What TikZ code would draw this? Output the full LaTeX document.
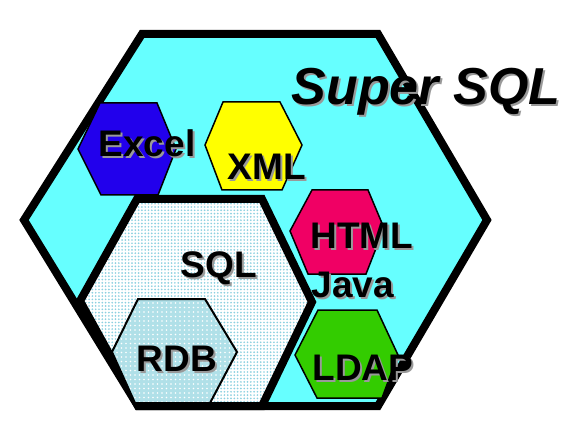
\documentclass[tikz,border=0pt]{standalone}
\usepackage{tikz}
\usepackage{fontspec}
\setmainfont{Liberation Sans}
\usetikzlibrary{patterns.meta}

\definecolor{hexcyan}{RGB}{102,255,255}
\definecolor{excelblue}{RGB}{34,0,236}
\definecolor{xmlyellow}{RGB}{255,255,0}
\definecolor{htmlpink}{RGB}{240,0,100}
\definecolor{ldapgreen}{RGB}{51,204,0}
\definecolor{sqldot}{RGB}{140,208,224}
\definecolor{rdbblue}{RGB}{176,224,232}

\newcommand{\shd}[1]{\rlap{\hspace{2pt}\raisebox{-2pt}{\textcolor{black!40}{#1}}}#1}

\begin{document}
\begin{tikzpicture}[x=1pt,y=-1pt,line join=miter]
\tikzset{bighex/.style={draw=black,line width=8pt,fill=hexcyan}}
\tikzset{sqlhex/.style={draw=black,line width=8pt,preaction={fill=white},pattern={Dots[distance=3.3pt,radius=0.95pt]},pattern color=sqldot}}
\tikzset{rdbhex/.style={draw=black,line width=2pt,preaction={fill=rdbblue},pattern={Dots[distance=4.5pt,radius=0.8pt]},pattern color=white}}
\tikzset{smallhex/.style={draw=black,line width=1.5pt}}
\tikzset{txt/.style={anchor=base,inner sep=0pt,font=\fontsize{37}{40}\selectfont\bfseries}}

\useasboundingbox (0,0) rectangle (580,438);

% outer hexagon
\path[bighex] (24,220) -- (142,34) -- (378,34) -- (487,220) -- (378,406) -- (138,406) -- cycle;

% small hexagons
\path[smallhex,fill=excelblue] (78,149) -- (100,103) -- (157,103) -- (176,149) -- (158,195) -- (101,195) -- cycle;
\path[smallhex,fill=xmlyellow] (205,145) -- (223,102) -- (280,102) -- (302,145) -- (282,190) -- (222,190) -- cycle;
\path[smallhex,fill=htmlpink] (290,231) -- (312,190) -- (368,190) -- (384,228) -- (366,274) -- (308,274) -- cycle;
\path[smallhex,fill=ldapgreen] (295,355) -- (318,310) -- (377,310) -- (398,355) -- (382,398) -- (317,398) -- cycle;

% SQL and RDB
\path[sqlhex] (80,301) -- (137,199) -- (262,199) -- (312,302) -- (262,406) -- (138,406) -- cycle;
\path[rdbhex] (112,352) -- (138,299) -- (205,299) -- (237,352) -- (210,403) -- (135,403) -- cycle;

\node[txt,font=\fontsize{52}{56}\selectfont\bfseries\itshape] (Super) at (426,105) {\shd{Super SQL}};
\node[txt] (Excel) at (147,157) {\shd{Excel}};
\node[txt] (XML)   at (267,180) {\shd{XML}};
\node[txt] (SQL)   at (219,277) {\shd{SQL}};
\node[txt] (HTML)  at (362,248) {\shd{HTML}};
\node[txt] (Java)  at (353,297) {\shd{Java}};
\node[txt] (LDAP)  at (363,380) {\shd{LDAP}};
\node[txt] (RDB)   at (177,371) {\shd{RDB}};
\end{tikzpicture}
\end{document}
